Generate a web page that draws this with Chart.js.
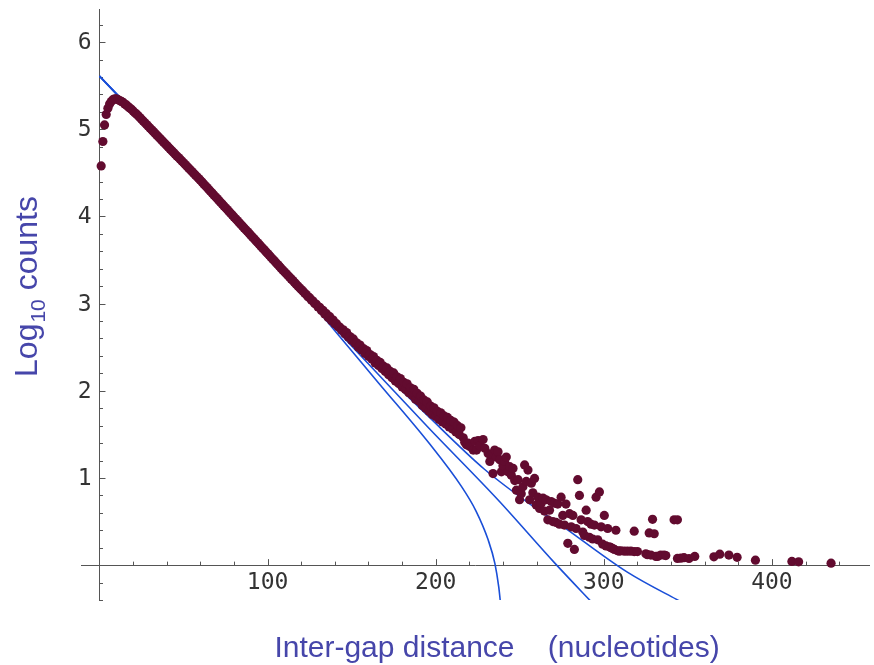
<!DOCTYPE html>
<html>
<head>
<meta charset="utf-8">
<script src="https://cdn.jsdelivr.net/npm/chart.js@4.4.1/dist/chart.umd.min.js"></script>
<style>
  body { margin: 0; background: #fff; }
  canvas { display: block; }
</style>
</head>
<body>
<canvas id="gapChart" width="874" height="665"></canvas>
<script>
// log10 counts, one value per distance, starting at distance 1
var bandStart = 1;
var bandY = [
  4.58, 4.86, 5.05, 5.17, 5.24, 5.29, 5.32, 5.34, 5.35, 5.35,
  5.34, 5.33, 5.32, 5.31, 5.29, 5.28, 5.26, 5.245, 5.23, 5.21,
  5.19, 5.175, 5.155, 5.135, 5.115, 5.095, 5.075, 5.055, 5.035, 5.015,
  4.995, 4.975, 4.955, 4.935, 4.915, 4.895, 4.875, 4.855, 4.835, 4.815,
  4.795, 4.775, 4.755, 4.735, 4.715, 4.695, 4.675, 4.655, 4.635, 4.615,
  4.595, 4.575, 4.555, 4.535, 4.515, 4.495, 4.475, 4.455, 4.435, 4.415,
  4.394, 4.373, 4.352, 4.331, 4.310, 4.289, 4.268, 4.247, 4.226, 4.205,
  4.184, 4.163, 4.142, 4.121, 4.100, 4.079, 4.058, 4.037, 4.016, 3.995,
  3.974, 3.953, 3.932, 3.911, 3.890, 3.869, 3.848, 3.827, 3.806, 3.785,
  3.764, 3.743, 3.722, 3.701, 3.680, 3.659, 3.638, 3.617, 3.596, 3.575,
  3.554, 3.533, 3.512, 3.491, 3.470, 3.449, 3.428, 3.407, 3.386, 3.365,
  3.345, 3.325, 3.305, 3.284, 3.264, 3.243, 3.223, 3.202, 3.182, 3.162,
  3.145, 3.122, 3.105, 3.080, 3.068, 3.042, 3.030, 3.002, 2.992, 2.962,
  2.958, 2.920, 2.922, 2.882, 2.885, 2.842, 2.850, 2.805, 2.812, 2.768,
  2.770, 2.735, 2.730, 2.695, 2.700, 2.655, 2.668, 2.618, 2.622, 2.580,
  2.595, 2.545, 2.550, 2.500, 2.525, 2.468, 2.485, 2.428, 2.462, 2.395,
  2.415, 2.365, 2.392, 2.320, 2.350, 2.290, 2.325, 2.255, 2.282, 2.222,
  2.262, 2.185, 2.222, 2.150, 2.205, 2.112, 2.160, 2.085, 2.140, 2.045,
  2.098, 2.015, 2.080, 1.978, 2.035, 1.948, 2.018, 1.902, 1.972, 1.880,
  1.940, 1.832, 1.895, 1.800, 1.872, 1.765, 1.825, 1.728, 1.805, 1.705,
  1.765, 1.672, 1.748, 1.642, 1.712, 1.618, 1.695, 1.585, 1.660, 1.562,
  1.640, 1.528, 1.600, 1.498, 1.575
];

// scattered tail
var tailX = [
  216.4, 217.3, 218.3, 219.3, 220.3, 222.3, 223.3, 224.3, 225.2, 226.2,
  228.2, 229.2, 231.2, 232.2, 233.1, 234.1, 235.1, 236.1, 237.1, 238.1,
  239.1, 240.0, 241.0, 242.0, 243.0, 244.0, 245.0, 246.0, 247.0, 248.0,
  249.0, 249.9, 250.9, 251.9, 252.9, 253.9, 254.9, 255.9, 256.9, 257.8,
  258.8, 259.8, 260.8, 261.8, 262.8, 263.8, 264.7, 265.7, 266.7, 267.7,
  268.7, 269.7, 270.7, 271.6, 272.6, 273.6, 274.6, 275.6, 276.6, 277.5,
  278.6, 279.6, 280.6, 281.6, 282.5, 283.5, 284.5, 285.5, 286.5, 287.5,
  288.5, 289.5, 290.4, 291.4, 292.4, 293.4, 294.4, 295.4, 296.4, 297.4,
  298.4, 299.3, 300.3, 301.3, 302.3, 303.3, 304.3, 305.3, 306.3, 307.2,
  308.2, 309.2, 310.2, 312.2, 314.1, 316.1, 318.1, 318.1, 320.0, 325.0,
  326.0, 327.0, 328.0, 329.0, 330.0, 331.0, 332.0, 333.9, 335.9, 336.9,
  341.8, 343.8, 343.8, 345.8, 347.7, 350.7, 354.1, 365.5, 369.0, 374.4,
  379.3, 390.2, 411.9, 415.9, 435.2
];
var tailY = [
  1.46, 1.41, 1.38, 1.40, 1.36, 1.32, 1.42, 1.32, 1.43, 1.37,
  1.44, 1.34, 1.28, 1.19, 1.27, 1.05, 1.32, 1.24, 1.30, 1.21,
  1.07, 1.14, 1.19, 1.24, 1.07, 1.13, 1.03, 1.11, 0.97, 0.86,
  0.98, 0.75, 0.82, 0.90, 1.15, 0.96, 1.09, 0.75, 0.94, 0.83,
  0.995, 0.69, 0.78, 0.65, 0.71, 0.77, 0.62, 0.75, 0.52, 0.63,
  0.73, 0.50, 0.71, 0.49, 0.70, 0.47, 0.78, 0.57, 0.46, 0.70,
  0.25, 0.59, 0.44, 0.57, 0.18, 0.42, 0.98, 0.80, 0.52, 0.38,
  0.34, 0.63, 0.50, 0.32, 0.47, 0.30, 0.46, 0.78, 0.29, 0.84,
  0.44, 0.24, 0.57, 0.22, 0.42, 0.21, 0.20, 0.19, 0.18, 0.40,
  0.165, 0.16, 0.165, 0.16, 0.16, 0.16, 0.39, 0.155, 0.155, 0.13,
  0.12, 0.37, 0.115, 0.525, 0.36, 0.10, 0.10, 0.115, 0.115, 0.11,
  0.52, 0.52, 0.077, 0.08, 0.085, 0.076, 0.10, 0.095, 0.126, 0.115,
  0.09, 0.057, 0.042, 0.038, 0.023
];

// fitted curves
var upperX = [0, 40, 80, 115, 140, 160, 196, 229, 259, 273, 314, 343, 352];
var upperY = [5.61, 4.81, 3.99, 3.25, 2.77, 2.38, 1.70, 1.10, 0.66, 0.48, -0.08, -0.39, -0.48];
var straightX = [0, 120, 196, 237, 271, 295];
var straightY = [5.61, 3.13, 1.57, 0.75, 0.02, -0.47];
var lowerX = [0, 40, 80, 115, 140, 166, 196, 215.4, 224, 231.2, 235.2, 237.5, 238.8];
var lowerY = [5.61, 4.81, 3.99, 3.25, 2.69, 2.09, 1.40, 0.90, 0.62, 0.29, 0.02, -0.25, -0.48];

var xTitle = 'Inter-gap distance    (nucleotides)';
var yTitleMain = 'Log';
var yTitleSub = '10';
var yTitleRest = ' counts';

var titleColor = '#4646aa';
var dotColor = '#620b2f';
var fitColor = '#1a4fd8';
var labelColor = '#333';
var tickFont = { family: '"DejaVu Sans Mono", monospace', size: 23 };

function pairs(xs, ys) {
  return xs.map(function (x, i) { return { x: x, y: ys[i] }; });
}

var points = bandY.map(function (y, i) { return { x: bandStart + i, y: y }; })
  .concat(pairs(tailX, tailY));

function fitLine(xs, ys) {
  return {
    data: pairs(xs, ys),
    showLine: true,
    borderColor: fitColor,
    borderWidth: 1.6,
    pointRadius: 0,
    fill: false,
    cubicInterpolationMode: 'monotone'
  };
}

function isWhole(v) { return Math.abs(v - Math.round(v)) < 1e-6; }
function yLabel(v) { return (isWhole(v) && v > 0.5) ? String(Math.round(v)) : ''; }

// tick marks on the inner side of the crossing axes, and the y labels
// (chart.js puts y labels right on a positioned axis, so they are drawn here)
var innerTicks = {
  id: 'innerTicks',
  beforeDatasetsDraw: function (chart) {
    var ctx = chart.ctx, xs = chart.scales.x, ys = chart.scales.y;
    var x0 = xs.getPixelForValue(0), y0 = ys.getPixelForValue(0);
    ctx.save();
    ctx.strokeStyle = '#555';
    ctx.lineWidth = 1;
    ctx.beginPath();
    xs.ticks.forEach(function (t) {
      if (t.value <= 0 || t.value > xs.max) return;
      var px = Math.round(xs.getPixelForValue(t.value)) + 0.5;
      var len = t.value % 100 === 0 ? 6 : 3.5;
      ctx.moveTo(px, y0);
      ctx.lineTo(px, y0 - len);
    });
    ys.ticks.forEach(function (t) {
      if (Math.abs(t.value) < 1e-6 || t.value < ys.min || t.value > ys.max) return;
      var py = Math.round(ys.getPixelForValue(t.value)) + 0.5;
      var len = isWhole(t.value) ? 6 : 3.5;
      ctx.moveTo(x0, py);
      ctx.lineTo(x0 + len, py);
    });
    ctx.stroke();

    ctx.fillStyle = labelColor;
    ctx.font = tickFont.size + 'px ' + tickFont.family;
    ctx.textAlign = 'right';
    ctx.textBaseline = 'middle';
    ys.ticks.forEach(function (t) {
      var text = yLabel(t.value);
      if (text) ctx.fillText(text, x0 - 8, ys.getPixelForValue(t.value) + 1);
    });
    ctx.restore();
  }
};

var axisTitles = {
  id: 'axisTitles',
  afterDraw: function (chart) {
    var ctx = chart.ctx;
    ctx.save();
    ctx.fillStyle = titleColor;
    ctx.font = '30px "Liberation Sans", Arial, sans-serif';
    ctx.textAlign = 'center';
    ctx.textBaseline = 'alphabetic';
    ctx.fillText(xTitle, 497, 657);

    ctx.translate(37, 287);
    ctx.rotate(-Math.PI / 2);
    ctx.textAlign = 'left';
    var mainFont = '32px "Liberation Sans", Arial, sans-serif';
    var subFont = '21px "Liberation Sans", Arial, sans-serif';
    ctx.font = mainFont;
    var w1 = ctx.measureText(yTitleMain).width;
    var w3 = ctx.measureText(yTitleRest).width;
    ctx.font = subFont;
    var w2 = ctx.measureText(yTitleSub).width;
    var start = -(w1 + w2 + w3) / 2;
    ctx.font = mainFont;
    ctx.fillText(yTitleMain, start, 0);
    ctx.font = subFont;
    ctx.fillText(yTitleSub, start + w1 + 1, 8);
    ctx.font = mainFont;
    ctx.fillText(yTitleRest, start + w1 + w2 + 1, 0);
    ctx.restore();
  }
};

new Chart(document.getElementById('gapChart'), {
  type: 'scatter',
  data: {
    datasets: [
      {
        data: points,
        backgroundColor: dotColor,
        borderColor: dotColor,
        borderWidth: 0,
        pointRadius: 4.6,
        pointHoverRadius: 4.6
      },
      fitLine(upperX, upperY),
      fitLine(straightX, straightY),
      fitLine(lowerX, lowerY)
    ]
  },
  options: {
    responsive: false,
    animation: false,
    layout: { padding: { left: 81, right: 1, top: 9, bottom: 65 } },
    plugins: {
      legend: { display: false },
      tooltip: { enabled: false }
    },
    scales: {
      x: {
        type: 'linear',
        position: { y: 0 },
        min: -11,
        max: 458,
        grid: { display: false, drawTicks: false },
        border: { display: true, color: '#555', width: 1 },
        ticks: {
          stepSize: 20,
          includeBounds: false,
          autoSkip: false,
          maxRotation: 0,
          padding: 4,
          color: labelColor,
          font: tickFont,
          callback: function (v) { return (v % 100 === 0 && v > 0) ? String(v) : ''; }
        }
      },
      y: {
        type: 'linear',
        position: { x: 0 },
        min: -0.4,
        max: 6.38,
        grid: { display: false, drawTicks: false },
        border: { display: true, color: '#555', width: 1 },
        ticks: {
          display: false,
          stepSize: 0.2,
          includeBounds: false,
          autoSkip: false,
          callback: yLabel
        }
      }
    }
  },
  plugins: [innerTicks, axisTitles]
});
</script>
</body>
</html>
